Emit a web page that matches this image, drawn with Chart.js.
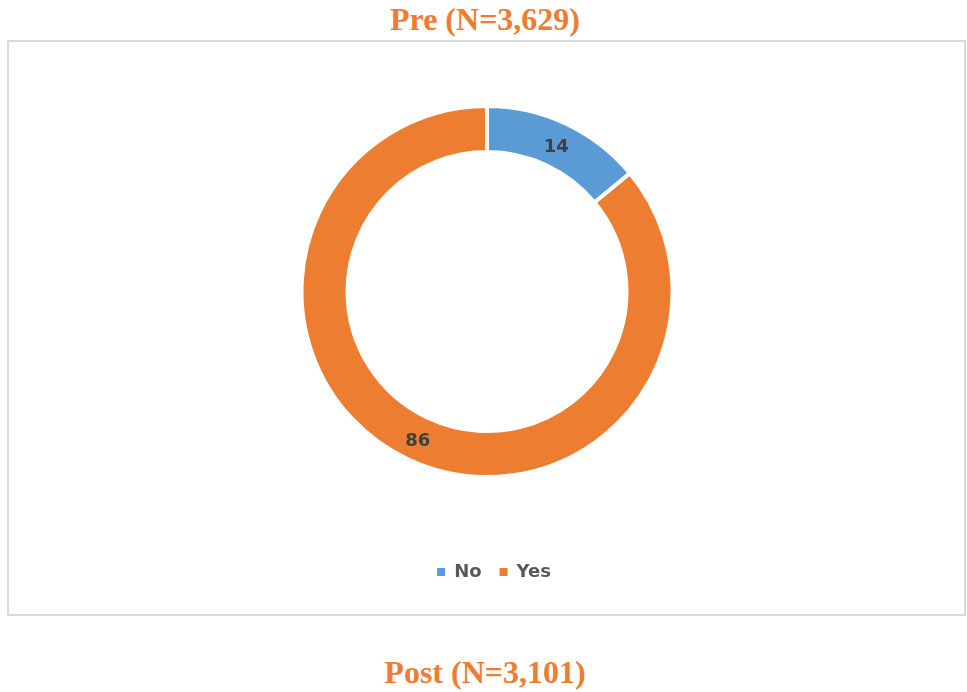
<!DOCTYPE html>
<html>
<head>
<meta charset="utf-8">
<script src="https://cdn.jsdelivr.net/npm/chart.js@4"></script>
<style>
  body { margin: 0; background: #fff; }
  #wrap { position: relative; width: 967px; height: 692px; }
  .ttl { position: absolute; left: 0; width: 970px; text-align: center;
         font: bold 32px "Liberation Serif", "Times New Roman", serif; color: #ED7D31; }
  #box { position: absolute; left: 7px; top: 40px; width: 955px; height: 572px;
         border: 2px solid #d9d9d9; }
  canvas { position: absolute; left: 0; top: 0; }
</style>
</head>
<body>
<div id="wrap">
  <div class="ttl" style="top:1px">Pre (N=3,629)</div>
  <div id="box"></div>
  <div class="ttl" style="top:654px">Post (N=3,101)</div>
  <canvas id="pre_chart" width="967" height="692"></canvas>
</div>
<script>
var labels = ['No', 'Yes'];
var values = [14, 86];
var colors = ['#5B9BD5', '#ED7D31'];

// value labels in the middle of each slice
const sliceLabels = {
    id: 'sliceLabels',
    afterDatasetsDraw(chart) {
        const ctx = chart.ctx;
        const meta = chart.getDatasetMeta(0);
        ctx.save();
        ctx.font = 'bold 18px "DejaVu Sans", sans-serif';
        ctx.fillStyle = '#404040';
        ctx.textAlign = 'center';
        ctx.textBaseline = 'middle';
        meta.data.forEach(function(arc, i) {
            const p = arc.getCenterPoint();
            ctx.fillText(String(values[i]), p.x, p.y + 3);
        });
        ctx.restore();
    }
};

// nudge the legend a little right and down
const legendShift = {
    id: 'legendShift',
    afterLayout(chart) {
        const lg = chart.legend;
        lg.left += 7; lg.right += 7;
        lg.top += 3; lg.bottom += 3;
    }
};

const dt = {
    labels: labels,
    datasets: [{
        data: values,
        backgroundColor: colors,
        borderColor: '#ffffff',
        borderWidth: 4
    }]
};

const config_pre = {
    type: 'doughnut',
    data: dt,
    options: {
        responsive: false,
        animation: false,
        radius: 185.5,
        cutout: '75.2%',
        layout: { padding: { top: 41, bottom: 104, left: 7, right: 0 } },
        plugins: {
            legend: {
                position: 'bottom',
                labels: {
                    boxWidth: 8,
                    boxHeight: 8,
                    padding: 18,
                    color: '#595959',
                    font: { family: '"DejaVu Sans", sans-serif', size: 18, weight: 'bold' },
                    generateLabels: function(chart) {
                        const items = Chart.DoughnutController.overrides.plugins.legend.labels.generateLabels(chart);
                        items.forEach(function(it) { it.lineWidth = 0; });
                        return items;
                    }
                }
            },
            tooltip: { enabled: false }
        }
    },
    plugins: [sliceLabels, legendShift]
};

const pre_chart = new Chart(document.getElementById('pre_chart'), config_pre);
</script>
</body>
</html>
